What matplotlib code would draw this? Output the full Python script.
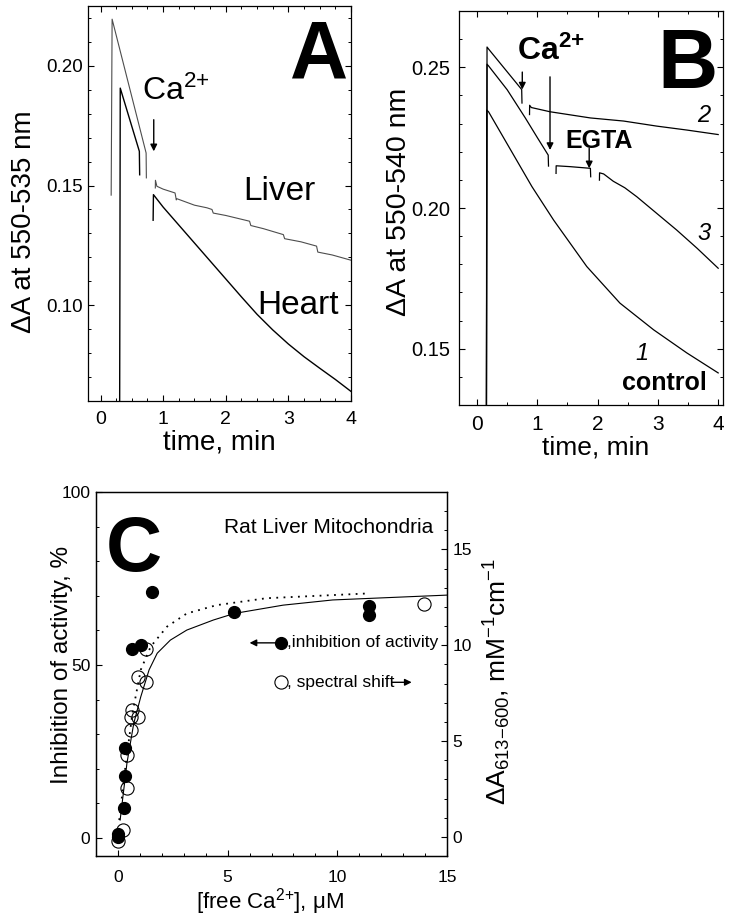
import matplotlib
matplotlib.use('Agg')
import matplotlib.pyplot as plt
import numpy as np
from matplotlib.ticker import MultipleLocator, FormatStrFormatter

plt.rcParams['font.family'] = 'Liberation Sans'
plt.rcParams['mathtext.fontset'] = 'custom'
plt.rcParams['mathtext.rm'] = 'Liberation Sans'
plt.rcParams['mathtext.it'] = 'Liberation Sans:italic'
plt.rcParams['mathtext.bf'] = 'Liberation Sans:bold'
plt.rcParams['axes.linewidth'] = 0.9

nan = np.nan

# ---- panel A: liver / heart traces (time, min ; dA 550-535)
liver_t = [0.17, 0.185, 0.728, 0.732, nan, 0.875, 0.877, 0.90, 1.0, 1.19, 1.21, 1.22, 1.5, 1.70,
           1.78, 1.80, 2.0, 2.38, 2.40, 2.6, 2.92, 2.94, 3.2, 3.45, 3.47, 3.7, 3.96, 4.0]
liver_v = [0.146, 0.2195, 0.1636, 0.1532, nan, 0.1490, 0.1522, 0.1497, 0.1485, 0.1469, 0.1440, 0.1445,
           0.1418, 0.1407, 0.1400, 0.1385, 0.1375, 0.1351, 0.1333, 0.1320, 0.1295, 0.1278, 0.1265,
           0.1247, 0.1222, 0.1210, 0.1191, 0.1188]
heart_t = [0.305, 0.315, 0.62, 0.625, nan, 0.84, 0.845, 1.0, 1.25, 1.5, 1.75, 2.0, 2.25, 2.5,
           2.75, 3.0, 3.25, 3.5, 3.75, 4.0]
heart_v = [0.05, 0.1907, 0.1643, 0.1545, nan, 0.1355, 0.1462, 0.1410, 0.1335, 0.1260, 0.1185,
           0.1110, 0.1035, 0.0962, 0.0897, 0.0838, 0.0785, 0.0737, 0.0690, 0.0640]

# ---- panel B: traces 1 (control), 2, 3
c1_t = [0.155, 0.16, 0.19, 0.55, 0.91, 1.27, 1.82, 2.37, 2.93, 3.48, 4.0]
c1_v = [0.125, 0.2348, 0.2342, 0.2209, 0.2076, 0.1957, 0.1792, 0.1662, 0.1567, 0.1485, 0.1414]
c2_t = [0.155, 0.165, 0.19, 0.74, 0.745, nan, 0.87, 0.872, 0.90, 1.21, 1.88, 2.43, 2.98, 3.48, 4.0]
c2_v = [0.125, 0.2572, 0.2565, 0.2421, 0.2373, nan, 0.2332, 0.2365, 0.2357, 0.2342, 0.2320,
        0.2309, 0.2291, 0.2277, 0.2261]
c3_t = [0.155, 0.165, 0.19, 0.5, 0.8, 1.0, 1.18, 1.185, nan, 1.31, 1.312, 1.54, 1.88, 1.885, nan,
        2.03, 2.032, 2.10, 2.26, 2.45, 2.65, 2.98, 3.31, 3.65, 4.0]
c3_v = [0.125, 0.2511, 0.2505, 0.2420, 0.2320, 0.2250, 0.2188, 0.2149, nan, 0.2123, 0.2150, 0.2147,
        0.2141, 0.2111, nan, 0.2099, 0.2125, 0.2121, 0.2095, 0.2072, 0.2040, 0.1981, 0.1922,
        0.1857, 0.1786]

# ---- panel C: inhibition (%) and spectral shift (mM-1 cm-1)
inh_ca = [0.0, 0.02, 0.26, 0.32, 0.32, 0.66, 1.04, 1.57, 5.31, 11.45, 11.45]
inh_val = [0.4, 1.2, 8.8, 17.9, 26.1, 54.6, 55.8, 71.2, 65.4, 67.1, 64.4]
shift_ca = [0.0, 0.23, 0.41, 0.41, 0.59, 0.60, 0.62, 0.93, 0.93, 1.30, 1.30, 13.94]
shift_val = [-0.2, 0.36, 2.54, 4.27, 5.57, 6.27, 6.61, 6.27, 8.32, 8.06, 9.79, 12.17]
solid_x = [0.1, 0.41, 0.72, 1.04, 1.42, 1.79, 2.39, 3.14, 4.35, 5.31, 7.53, 9.79, 15.0]
solid_y = [5.2, 21.6, 33.1, 40.8, 48.6, 53.4, 57.2, 60.1, 63.0, 64.9, 67.3, 68.8, 70.2]
dot_x = [0.06, 0.36, 0.66, 1.04, 1.49, 2.24, 3.14, 4.5, 6.76, 11.45]
dot_y = [5.2, 21.6, 36.0, 48.6, 55.3, 61.1, 64.9, 67.3, 69.3, 70.7]

fig = plt.figure(figsize=(7.31, 9.23), dpi=100)


def arrow(ax, x0, y0, x1, y1):
    ax.annotate('', xy=(x1, y1), xytext=(x0, y0),
                arrowprops=dict(arrowstyle='-|>', color='k', lw=1.0, mutation_scale=10,
                                shrinkA=0, shrinkB=0))


# ================= A
axA = fig.add_axes([88/731, 1-401/923, 263/731, 395/923])
axA.plot(liver_t, liver_v, color='#4d4d4d', lw=0.8)
axA.plot(heart_t, heart_v, color='k', lw=1.0)
axA.set_xlim(-0.2, 4.0)
axA.set_ylim(0.06, 0.225)
axA.set_xticks([0, 1, 2, 3, 4])
axA.set_yticks([0.10, 0.15, 0.20])
axA.yaxis.set_major_formatter(FormatStrFormatter('%.2f'))
axA.xaxis.set_minor_locator(MultipleLocator(0.25))
axA.yaxis.set_minor_locator(MultipleLocator(0.01))
axA.tick_params(which='both', direction='in', top=True, right=True)
axA.tick_params(which='major', length=4.5, width=0.8)
axA.tick_params(which='minor', length=2.5, width=0.7)
axA.tick_params(axis='y', labelsize=13.5, pad=3.5)
axA.tick_params(axis='x', labelsize=14, pad=7.5)
axA.set_xlabel('time, min', fontsize=20)
axA.set_ylabel('ΔA at 550-535 nm', fontsize=20)
axA.xaxis.label.set_va('center')
axA.xaxis.set_label_coords(0.498, -0.106)
axA.yaxis.label.set_va('center')
axA.yaxis.set_label_coords(-0.243, 0.453)
axA.text(0.67, 0.1858, r'Ca$^{2{+}}$', fontsize=23, ha='left', va='baseline')
axA.text(2.28, 0.1441, 'Liver', fontsize=24, ha='left', va='baseline')
axA.text(2.50, 0.0962, 'Heart', fontsize=24, ha='left', va='baseline')
axA.text(3.03, 0.195, 'A', fontsize=58, fontweight='bold', ha='left', va='baseline')
arrow(axA, 0.85, 0.1775, 0.85, 0.1643)

# ================= B
axB = fig.add_axes([459/731, 1-405/923, 264/731, 394/923])
for t, v in [(c1_t, c1_v), (c2_t, c2_v), (c3_t, c3_v)]:
    axB.plot(t, v, color='k', lw=0.9)
axB.set_xlim(-0.3, 4.08)
axB.set_ylim(0.13, 0.27)
axB.set_xticks([0, 1, 2, 3, 4])
axB.set_yticks([0.15, 0.20, 0.25])
axB.yaxis.set_major_formatter(FormatStrFormatter('%.2f'))
axB.xaxis.set_minor_locator(MultipleLocator(0.5))
axB.yaxis.set_minor_locator(MultipleLocator(0.01))
axB.tick_params(which='both', direction='in', top=True, right=True)
axB.tick_params(which='major', length=4.5, width=0.8)
axB.tick_params(which='minor', length=2.5, width=0.7)
axB.tick_params(axis='y', labelsize=14.5, pad=6)
axB.tick_params(axis='x', labelsize=15, pad=7)
axB.set_xlabel('time, min', fontsize=19)
axB.set_ylabel('ΔA at 550-540 nm', fontsize=20.5)
axB.xaxis.label.set_va('center')
axB.xaxis.set_label_coords(0.518, -0.107)
axB.yaxis.label.set_va('center')
axB.yaxis.set_label_coords(-0.228, 0.515)
axB.text(0.66, 0.2525, r'Ca$^{\mathbf{2{+}}}$', fontsize=23, fontweight='bold', ha='left', va='baseline')
axB.text(1.46, 0.2213, 'EGTA', fontsize=18, fontweight='bold', ha='left', va='baseline')
axB.text(3.65, 0.2306, '2', fontsize=17, style='italic', ha='left', va='baseline')
axB.text(3.65, 0.1887, '3', fontsize=17, style='italic', ha='left', va='baseline')
axB.text(2.62, 0.1461, '1', fontsize=17, style='italic', ha='left', va='baseline')
axB.text(2.40, 0.1355, 'control', fontsize=18, fontweight='bold', ha='left', va='baseline')
axB.text(2.99, 0.2426, 'B', fontsize=60, fontweight='bold', ha='left', va='baseline')
arrow(axB, 0.75, 0.2483, 0.75, 0.2421)
arrow(axB, 1.21, 0.2466, 1.21, 0.2206)
arrow(axB, 1.86, 0.2212, 1.86, 0.2141)

# ================= C
axC = fig.add_axes([96/731, 1-856/923, 351/731, 364/923])
axC2 = axC.twinx()
axC.plot(solid_x, solid_y, color='k', lw=0.8)
axC.plot(dot_x, dot_y, color='k', lw=1.3, ls=(0, (1, 3)))
axC.plot(inh_ca, inh_val, 'o', color='k', ms=8.5, zorder=3)
axC2.plot(shift_ca, shift_val, 'o', mfc='none', mec='k', mew=0.8, ms=9.5)
axC.set_xlim(-1, 15)
axC.set_ylim(-5.2, 100)
axC2.set_ylim(-1, 18)
axC.set_xticks([0, 5, 10, 15])
axC.set_yticks([0, 50, 100])
axC2.set_yticks([0, 5, 10, 15])
axC.xaxis.set_minor_locator(MultipleLocator(1))
axC.yaxis.set_minor_locator(MultipleLocator(10))
axC2.yaxis.set_minor_locator(MultipleLocator(1))
for a in (axC, axC2):
    a.tick_params(which='both', direction='in')
    a.tick_params(which='major', length=4.5, width=0.8, labelsize=12.5)
    a.tick_params(which='minor', length=2.5, width=0.7)
axC.tick_params(axis='x', pad=10)
axC.tick_params(axis='y', pad=4)
axC2.tick_params(axis='y', pad=4)
axC.set_xlabel(r'[free Ca$^{2{+}}$], μM', fontsize=16)
axC.set_ylabel('Inhibition of activity, %', fontsize=17.5)
axC2.set_ylabel(r'ΔA$_{613{-}600}$, mM$^{{-}1}$cm$^{{-}1}$', fontsize=19)
axC.xaxis.label.set_va('center')
axC.xaxis.set_label_coords(0.496, -0.124)
axC.yaxis.label.set_va('center')
axC.yaxis.set_label_coords(-0.097, 0.525)
axC2.yaxis.label.set_va('center')
axC2.yaxis.set_label_coords(1.142, 0.48)
axC.text(-0.54, 77.2, 'C', fontsize=56, fontweight='bold', ha='left', va='baseline')
axC.text(14.39, 88.2, 'Rat Liver Mitochondria', fontsize=15, ha='right', va='baseline')
arrow(axC, 7.3, 56.4, 6.0, 56.4)
axC.plot([7.45], [56.4], 'o', color='k', ms=8.5)
axC.text(7.69, 56.4, ',inhibition of activity', fontsize=12.5, ha='left', va='center')
axC.plot([7.45], [45.0], 'o', mfc='none', mec='k', mew=0.8, ms=9.5)
axC.text(7.69, 45.0, ', spectral shift', fontsize=12.5, ha='left', va='center')
arrow(axC, 12.49, 45.0, 13.39, 45.0)

fig.savefig('out.png', dpi=100)
